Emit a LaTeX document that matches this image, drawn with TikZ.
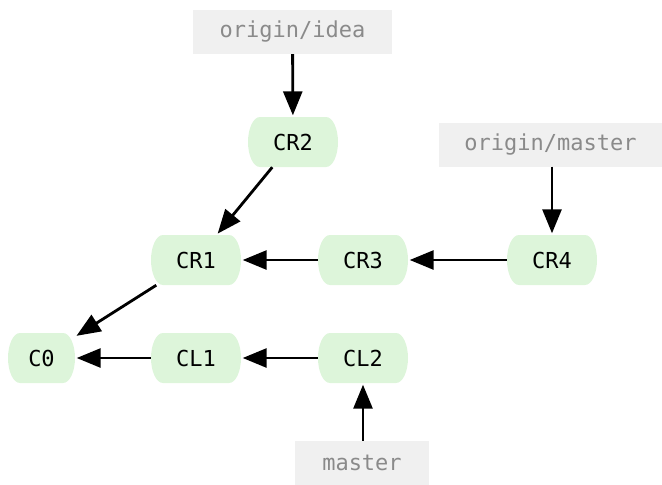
\documentclass[tikz,border=0pt]{standalone}
\usepackage{fontspec}
\setmonofont{DejaVu Sans Mono}
\usetikzlibrary{arrows.meta}
\definecolor{cgreen}{HTML}{DDF5DA}
\definecolor{cgray}{HTML}{F0F0F0}
\definecolor{tgray}{HTML}{8A8A8A}
\newcommand\commitnode[5]{%
  \fill[cgreen] ({#2-#4/2+12},{#3-25}) -- ({#2+#4/2-12},{#3-25})
    .. controls ({#2+#4/2-5},{#3-25}) and ({#2+#4/2},{#3-13}) .. ({#2+#4/2},{#3})
    .. controls ({#2+#4/2},{#3+13}) and ({#2+#4/2-5},{#3+25}) .. ({#2+#4/2-12},{#3+25})
    -- ({#2-#4/2+12},{#3+25})
    .. controls ({#2-#4/2+5},{#3+25}) and ({#2-#4/2},{#3+13}) .. ({#2-#4/2},{#3})
    .. controls ({#2-#4/2},{#3-13}) and ({#2-#4/2+5},{#3-25}) .. ({#2-#4/2+12},{#3-25}) -- cycle;
  \node[commit, minimum width=#4] (#1) at (#2,#3) {#5};}
\begin{document}
\begin{tikzpicture}[x=1pt,y=-1pt,
  commit/.style={rectangle, draw=none, minimum height=50pt, inner sep=0pt,
    font=\ttfamily\fontsize{22}{22}\selectfont},
  refbox/.style={rectangle, fill=cgray, draw=none, minimum height=44pt, inner sep=0pt,
    text=tgray, font=\ttfamily\fontsize{22}{22}\selectfont},
  edge/.style={line width=2.8pt, -{Triangle[length=24pt,width=19pt]}, shorten >=1.5pt}]
\useasboundingbox (0,0) rectangle (662,485);
\node[refbox, minimum width=199pt] (oi) at (292.5,32) {origin/idea};
\commitnode{cr2}{293}{142}{90}{CR2}
\node[refbox, minimum width=223pt] (om) at (550.5,144.5) {origin/master};
\commitnode{cr1}{196}{260}{90}{CR1}
\commitnode{cr3}{363}{260}{90}{CR3}
\commitnode{cr4}{552}{260}{90}{CR4}
\commitnode{c0}{41.5}{358}{67}{C0}
\commitnode{cl1}{196}{358}{90}{CL1}
\commitnode{cl2}{363}{358}{90}{CL2}
\node[refbox, minimum width=134pt] (ma) at (362,463) {master};
\draw[edge] (oi) -- (cr2);
\draw[edge] (cr2) -- (cr1);
\draw[edge] (om.south -| cr4) -- (cr4);
\draw[edge] (cr3) -- (cr1);
\draw[edge] (cr4) -- (cr3);
\draw[edge] (cr1) -- (c0);
\draw[edge] (cl1) -- (c0);
\draw[edge] (cl2) -- (cl1);
\draw[edge] (ma.north -| cl2) -- (cl2);
\end{tikzpicture}
\end{document}
